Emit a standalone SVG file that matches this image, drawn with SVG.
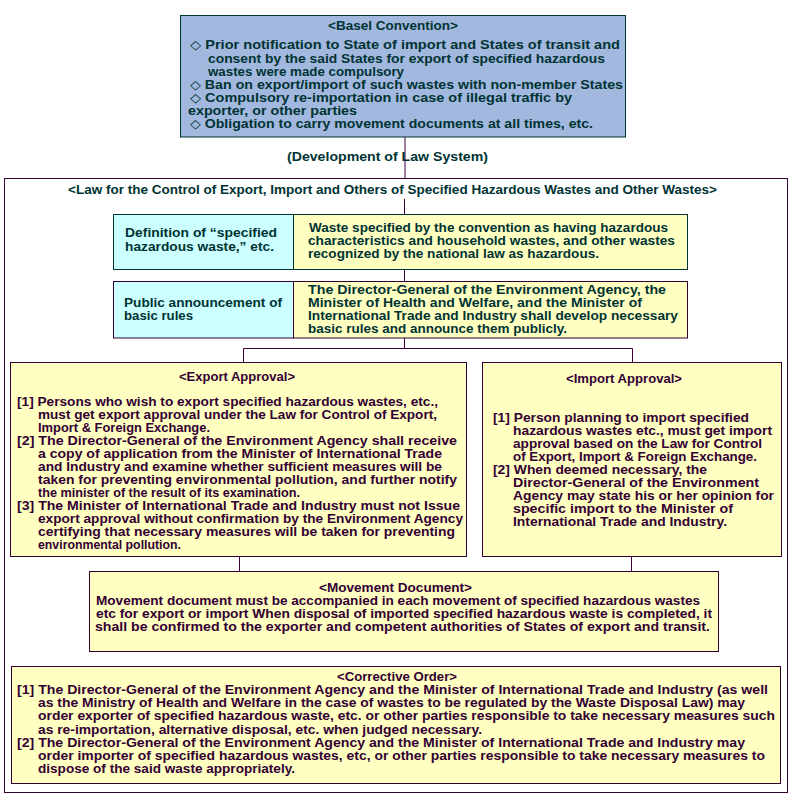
<svg xmlns="http://www.w3.org/2000/svg" width="800" height="800" viewBox="0 0 800 800">
<style>
text{font-family:"Liberation Sans","DejaVu Sans",sans-serif;font-size:12.5px;font-weight:bold}
.g{fill:#003333}
.p{fill:#330033}
.ln{stroke:#3d003d;stroke-width:1;fill:none}
.blue{fill:#a2b8de;stroke:#003333;stroke-width:1}
.cyan{fill:#ccffff;stroke:#003333;stroke-width:1}
.yel{fill:#ffffc2;stroke:#003333;stroke-width:1}
.yelp{fill:#ffffc2;stroke:#330033;stroke-width:1}
.cyanp{fill:#ccffff;stroke:#330033;stroke-width:1}
</style>
<rect width="800" height="800" fill="#ffffff"/>
<g id="connectors">
<line class="ln" x1="405" y1="137" x2="405" y2="178"/>
<line class="ln" x1="404.5" y1="199" x2="404.5" y2="214"/>
<line class="ln" x1="404.5" y1="269" x2="404.5" y2="281"/>
<line class="ln" x1="404.5" y1="338" x2="404.5" y2="348.5"/>
<line class="ln" x1="243.5" y1="348.5" x2="632.5" y2="348.5"/>
<line class="ln" x1="243.5" y1="348.5" x2="243.5" y2="362"/>
<line class="ln" x1="632.5" y1="348.5" x2="632.5" y2="362"/>
<line class="ln" x1="239.5" y1="556" x2="239.5" y2="571"/>
<line class="ln" x1="631.5" y1="556" x2="631.5" y2="571"/>
</g>
<g id="basel">
<rect class="blue" x="180.5" y="15.5" width="445" height="121.5"/>
<text class="g" x="328" y="30" textLength="130" lengthAdjust="spacingAndGlyphs">&lt;Basel Convention&gt;</text>
<text class="g" x="190" y="49" textLength="430" lengthAdjust="spacingAndGlyphs">◇  Prior notification to State of import and States of transit and</text>
<text class="g" x="208" y="63" textLength="397" lengthAdjust="spacingAndGlyphs">consent by the said States for export of specified hazardous</text>
<text class="g" x="208" y="76" textLength="196" lengthAdjust="spacingAndGlyphs">wastes were made compulsory</text>
<text class="g" x="190" y="89" textLength="433" lengthAdjust="spacingAndGlyphs">◇  Ban on export/import of such wastes with non-member States</text>
<text class="g" x="190" y="102" textLength="382" lengthAdjust="spacingAndGlyphs">◇  Compulsory re-importation in case of illegal traffic  by</text>
<text class="g" x="188" y="115" textLength="169" lengthAdjust="spacingAndGlyphs">exporter, or other parties</text>
<text class="g" x="190" y="128" textLength="403" lengthAdjust="spacingAndGlyphs">◇  Obligation to carry movement documents at all times, etc.</text>
</g>
<g id="development-label">
<text class="g" x="287" y="161" textLength="201" lengthAdjust="spacingAndGlyphs">(Development of Law System)</text>
</g>
<g id="law">
<rect x="4.5" y="178.5" width="783" height="614" fill="none" stroke="#330033" stroke-width="1"/>
<text class="g" x="68" y="194" textLength="649" lengthAdjust="spacingAndGlyphs">&lt;Law for the Control of Export, Import and Others of Specified Hazardous Wastes and Other Wastes&gt;</text>
</g>
<g id="definition">
<rect class="cyan" x="113.5" y="214.5" width="180" height="55"/>
<rect class="yel" x="293.5" y="214.5" width="394" height="55"/>
<text class="g" x="125" y="237" textLength="152" lengthAdjust="spacingAndGlyphs">Definition of “specified</text>
<text class="g" x="125" y="251" textLength="149" lengthAdjust="spacingAndGlyphs">hazardous waste,” etc.</text>
<text class="g" x="309" y="232" textLength="359" lengthAdjust="spacingAndGlyphs">Waste specified by the convention as having hazardous</text>
<text class="g" x="308" y="245" textLength="367" lengthAdjust="spacingAndGlyphs">characteristics and household wastes, and other wastes</text>
<text class="g" x="308" y="258" textLength="291" lengthAdjust="spacingAndGlyphs">recognized by the national law as hazardous.</text>
</g>
<g id="public-announcement">
<rect class="cyanp" x="113.5" y="281.5" width="180" height="56.5"/>
<rect class="yelp" x="293.5" y="281.5" width="394" height="56.5"/>
<text class="g" x="124" y="307" textLength="158" lengthAdjust="spacingAndGlyphs">Public announcement of</text>
<text class="g" x="124" y="320" textLength="69" lengthAdjust="spacingAndGlyphs">basic rules</text>
<text class="g" x="308" y="294" textLength="358" lengthAdjust="spacingAndGlyphs">The Director-General of the Environment Agency, the</text>
<text class="g" x="308" y="307" textLength="334" lengthAdjust="spacingAndGlyphs">Minister of Health and Welfare, and the Minister of</text>
<text class="g" x="308" y="320" textLength="370" lengthAdjust="spacingAndGlyphs">International Trade and Industry shall develop necessary</text>
<text class="g" x="308" y="333" textLength="259" lengthAdjust="spacingAndGlyphs">basic rules and announce them publicly.</text>
</g>
<g id="export-approval">
<rect class="yelp" x="10.5" y="362.5" width="456" height="194"/>
<text class="p" x="179" y="381" textLength="116" lengthAdjust="spacingAndGlyphs">&lt;Export Approval&gt;</text>
<text class="p" x="17" y="406" textLength="421" lengthAdjust="spacingAndGlyphs">[1] Persons who wish to export specified hazardous wastes, etc.,</text>
<text class="p" x="38" y="419" textLength="399" lengthAdjust="spacingAndGlyphs">must get export approval under the Law for Control of Export,</text>
<text class="p" x="38" y="432" textLength="172" lengthAdjust="spacingAndGlyphs">Import &amp; Foreign Exchange.</text>
<text class="p" x="17" y="445" textLength="440" lengthAdjust="spacingAndGlyphs">[2] The Director-General of the Environment Agency shall receive</text>
<text class="p" x="38" y="458" textLength="404" lengthAdjust="spacingAndGlyphs">a copy of application from the Minister of International Trade</text>
<text class="p" x="38" y="471" textLength="404" lengthAdjust="spacingAndGlyphs">and Industry and examine whether sufficient measures will be</text>
<text class="p" x="38" y="484" textLength="419" lengthAdjust="spacingAndGlyphs">taken for preventing environmental pollution, and further notify</text>
<text class="p" x="38" y="497" textLength="262" lengthAdjust="spacingAndGlyphs">the minister of the result of its examination.</text>
<text class="p" x="17" y="510" textLength="443" lengthAdjust="spacingAndGlyphs">[3] The Minister of International Trade and Industry must not Issue</text>
<text class="p" x="38" y="523" textLength="425" lengthAdjust="spacingAndGlyphs">export approval without confirmation by the Environment Agency</text>
<text class="p" x="38" y="536" textLength="417" lengthAdjust="spacingAndGlyphs">certifying that necessary measures will be taken for preventing</text>
<text class="p" x="38" y="549" textLength="143" lengthAdjust="spacingAndGlyphs">environmental pollution.</text>
</g>
<g id="import-approval">
<rect class="yelp" x="482.5" y="362.5" width="299" height="194"/>
<text class="p" x="566" y="383" textLength="116" lengthAdjust="spacingAndGlyphs">&lt;Import Approval&gt;</text>
<text class="p" x="493" y="422" textLength="256" lengthAdjust="spacingAndGlyphs">[1] Person planning to import specified</text>
<text class="p" x="513" y="435" textLength="259" lengthAdjust="spacingAndGlyphs">hazardous wastes etc., must get import</text>
<text class="p" x="513" y="448" textLength="249" lengthAdjust="spacingAndGlyphs">approval based on the Law for Control</text>
<text class="p" x="513" y="461" textLength="244" lengthAdjust="spacingAndGlyphs">of Export, Import &amp; Foreign Exchange.</text>
<text class="p" x="493" y="474" textLength="214" lengthAdjust="spacingAndGlyphs">[2] When deemed necessary, the</text>
<text class="p" x="513" y="487" textLength="246" lengthAdjust="spacingAndGlyphs">Director-General of the Environment</text>
<text class="p" x="513" y="500" textLength="261" lengthAdjust="spacingAndGlyphs">Agency may state his or her opinion for</text>
<text class="p" x="513" y="513" textLength="220" lengthAdjust="spacingAndGlyphs">specific import to the Minister of</text>
<text class="p" x="513" y="526" textLength="214" lengthAdjust="spacingAndGlyphs">International Trade and Industry.</text>
</g>
<g id="movement-document">
<rect class="yelp" x="89.5" y="571.5" width="629" height="80"/>
<text class="p" x="319" y="592" textLength="153" lengthAdjust="spacingAndGlyphs">&lt;Movement Document&gt;</text>
<text class="p" x="96" y="605" textLength="604" lengthAdjust="spacingAndGlyphs">Movement document must be accompanied in each movement of specified hazardous wastes</text>
<text class="p" x="96" y="618" textLength="616" lengthAdjust="spacingAndGlyphs">etc for export or import When disposal of imported specified hazardous waste is completed, it</text>
<text class="p" x="95" y="631" textLength="615" lengthAdjust="spacingAndGlyphs">shall be confirmed to the exporter and competent authorities of States of export and transit.</text>
</g>
<g id="corrective-order">
<rect class="yelp" x="11.5" y="666.5" width="769" height="117"/>
<text class="p" x="337" y="681" textLength="120" lengthAdjust="spacingAndGlyphs">&lt;Corrective Order&gt;</text>
<text class="p" x="17" y="694" textLength="751" lengthAdjust="spacingAndGlyphs">[1] The Director-General of the Environment Agency and the Minister of International Trade and Industry (as well</text>
<text class="p" x="38" y="707" textLength="707" lengthAdjust="spacingAndGlyphs">as the Ministry of Health and Welfare in the case of wastes to be regulated by the Waste Disposal Law) may</text>
<text class="p" x="38" y="720" textLength="737" lengthAdjust="spacingAndGlyphs">order exporter of specified hazardous waste, etc. or other parties responsible to take necessary measures such</text>
<text class="p" x="38" y="734" textLength="444" lengthAdjust="spacingAndGlyphs">as re-importation, alternative disposal, etc. when judged necessary.</text>
<text class="p" x="17" y="747" textLength="728" lengthAdjust="spacingAndGlyphs">[2] The Director-General of the Environment Agency and the Minister of International Trade and Industry may</text>
<text class="p" x="38" y="760" textLength="727" lengthAdjust="spacingAndGlyphs">order importer of specified hazardous wastes, etc, or other parties responsible to take necessary measures to</text>
<text class="p" x="38" y="773" textLength="257" lengthAdjust="spacingAndGlyphs">dispose of the said waste appropriately.</text>
</g>
</svg>
